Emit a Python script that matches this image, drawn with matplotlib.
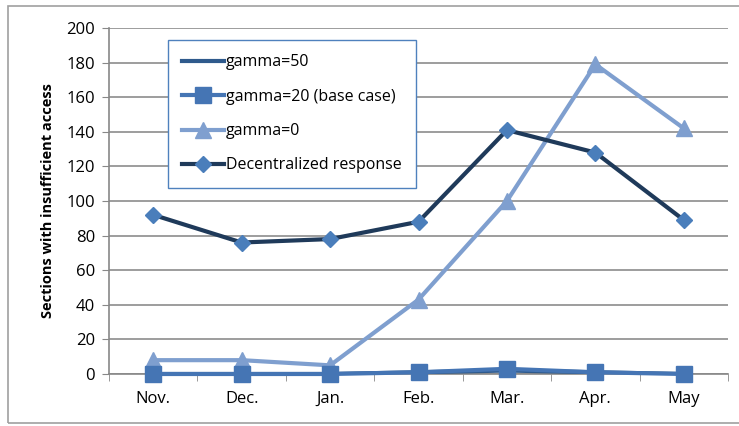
import matplotlib.pyplot as plt
from matplotlib.patches import Rectangle

months = ['Nov.', 'Dec.', 'Jan.', 'Feb.', 'Mar.', 'Apr.', 'May']
gamma50 = [0, 0, 0, 1, 2, 1, 0]
gamma20 = [0, 0, 0, 1, 3, 1, 0]
gamma0 = [8, 8, 5, 43, 100, 179, 142]
decentral = [92, 76, 78, 88, 141, 128, 89]

plt.rcParams['font.family'] = ['Open Sans', 'DejaVu Sans']

fig = plt.figure(figsize=(7.39, 4.26), dpi=100)
ax = fig.add_axes([109/739, 1-374/426, (728-109)/739, (374-28)/426])

# outer chart border
fig.patches.append(Rectangle((8/739, 1-423/426), 740/739, 417/426, transform=fig.transFigure,
                             fill=False, edgecolor='#a0a0a0', lw=1.2))

x = range(len(months))
ax.plot(x, gamma50, color='#2f5a8c', lw=3, label='gamma=50', zorder=3)
ax.plot(x, gamma20, color='#4575b4', lw=3, marker='s', ms=11, label='gamma=20 (base case)', zorder=4, clip_on=False)
ax.plot(x, gamma0, color='#7f9fcf', lw=3, marker='^', ms=12, label='gamma=0', zorder=3)
ax.plot(x, decentral, color='#1f3a5a', lw=3, marker='D', ms=8.5, mfc='#4a7ebb', mec='#4a7ebb',
        label='Decentralized response', zorder=3)

ax.set_xlim(-0.5, 6.5)
ax.set_ylim(0, 200)
ax.set_yticks(range(0, 201, 20))
ax.set_xticks(x)
ax.set_xticklabels(months, fontsize=12)
ax.set_xticks([i - 0.5 for i in range(8)], minor=True)
ax.tick_params(axis='x', which='major', length=0, pad=12)
ax.tick_params(axis='x', which='minor', length=5, color='#888888', direction='out')
ax.tick_params(axis='y', length=5, color='#888888', labelsize=12, pad=5)
ax.grid(axis='y', color='#8c8c8c', lw=1.2)
ax.set_axisbelow(True)
for s in ['top', 'right']:
    ax.spines[s].set_visible(False)
ax.spines['left'].set_color('#888888')
ax.spines['bottom'].set_color('#888888')
ax.spines['left'].set_linewidth(1.2)
ax.spines['bottom'].set_linewidth(1.2)

ax.set_ylabel('Sections with insufficient access', fontsize=10.5, fontweight='bold', labelpad=8)

leg = ax.legend(loc='upper left', bbox_to_anchor=((168-109)/619, (374-40)/346), fontsize=11.5,
                frameon=True, fancybox=False, handlelength=2.6, handletextpad=0.1,
                labelspacing=1.15, borderpad=0.9, borderaxespad=0)
leg.get_frame().set_edgecolor('#4f81bd')
leg.get_frame().set_linewidth(1.0)
leg.get_frame().set_alpha(1)

fig.savefig('out.png', dpi=100)
